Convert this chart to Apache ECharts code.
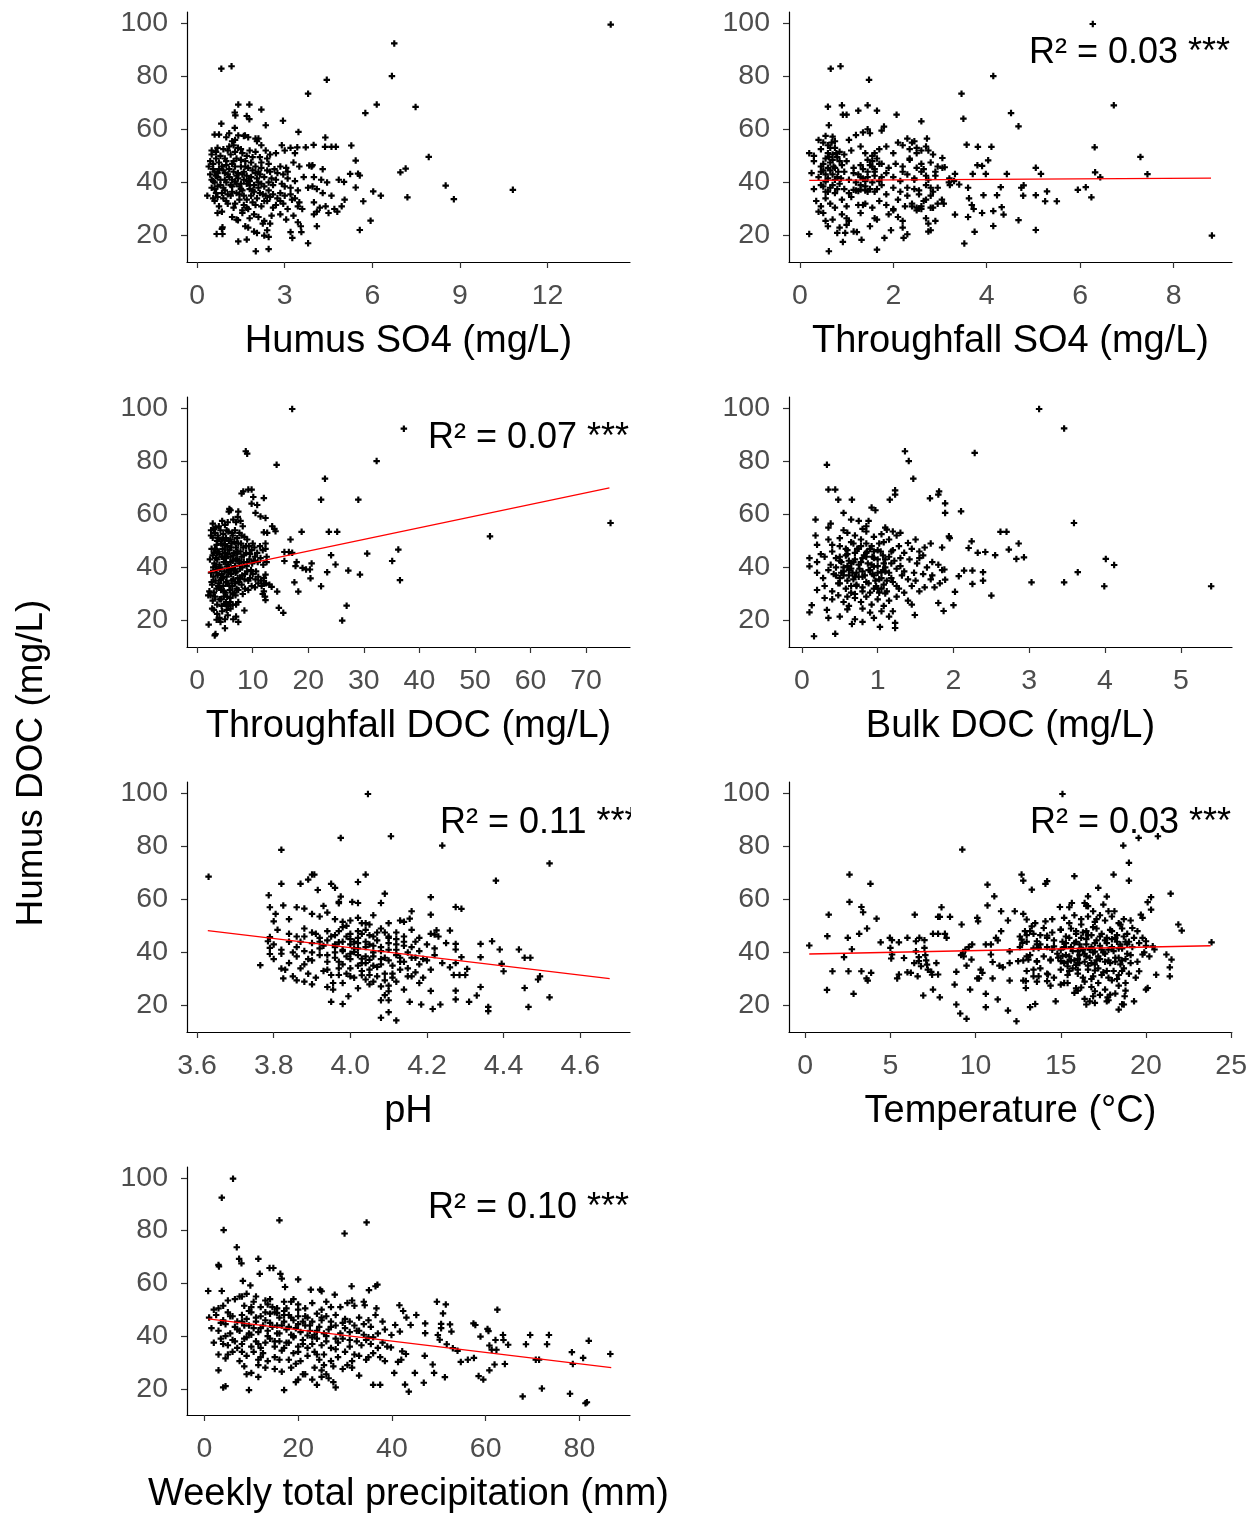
<!DOCTYPE html>
<html><head><meta charset="utf-8">
<script src="https://cdn.jsdelivr.net/npm/echarts@6/dist/echarts.min.js"></script>
<style>html,body{margin:0;padding:0;background:#fff}#c{width:1250px;height:1515px}</style>
</head><body><div id="c"></div>
<script>
// ---------- DATA ----------
const humusSO4 = [
[14.16,99.4],[6.75,92.3],[6.67,80.0],[4.44,78.6],[3.80,73.4],[1.18,83.7],[0.83,82.8],[6.15,69.3],[5.76,66.1],[7.48,68.4],[7.93,49.6],[6.96,43.8],[7.14,45.2],[7.20,34.4],[8.51,38.8],[8.79,33.7],[10.81,37.2],[6.03,36.6],[6.29,35.0],[5.94,25.6],[5.57,22.1],[5.69,32.9],[5.28,53.9],[5.43,48.2],[5.43,38.1],[5.51,43.3],[5.57,42.6],[5.24,43.2],[5.03,40.2],[5.05,33.5],[4.6,53.4],[4.75,53.4],[4.39,56.9],[4.38,53.4],[3.99,54.1],[3.72,53.2],[3.43,53.2],[3.47,59.0],[2.94,63.2],[3.84,46.4],[3.92,46.0],[3.80,17.1],[3.57,21.3],[3.20,21.3],[3.26,19.1],[2.45,14.9],[2.01,14.1],[1.41,17.8],[1.70,18.5],[0.67,20.6],[0.87,20.6],[0.87,23.1],[2.2,67.4],[2.35,61.5],[1.41,69.3],[1.79,69.3],[1.29,66.3],[1.31,65.2],[1.70,65.0],[1.79,63.8],[1.29,60.5],[0.83,62.1],[1.64,57.7],[1.41,57.7],[2.0,56.5],[2.05,55.5],
[0.6,58],[0.75,58],[1.1,58.5],[1.3,56],[1.6,57.5],[1.75,57],[2.1,56.5],[1.0,57],[1.2,55.5],
[0.5,52],[0.7,53],[0.9,52.5],[1.05,52],[1.25,54],[1.4,53],[1.55,51],[1.8,52],[2.0,51.5],[2.2,54],[2.35,52],[2.5,50.5],[2.7,51],[3.0,52],[3.2,53],[3.35,51],[2.9,54],[1.15,50.5],[0.8,50],
[0.45,48],[0.55,47],[0.65,49],[0.85,46],[1.0,48],[1.2,47],[1.35,49],[1.5,46],[1.65,48],[1.85,47.5],[2.0,46],[2.2,45.5],[2.45,47],[2.65,45],[2.85,46],[3.05,45.5],[3.3,47.5],[3.5,46],[3.95,46.5],[4.3,45],[2.4,49],
[0.45,43],[0.6,44],[0.7,42],[0.8,41],[0.95,43.5],[1.1,42],[1.25,44],[1.4,41.5],[1.55,43],[1.7,42.5],[1.9,44.5],[2.05,41.5],[2.15,43],[2.3,42],[2.5,44],[2.7,41],[2.95,43],[3.1,41.5],[3.35,40.5],[3.65,42],[4.0,42],[4.25,41],[4.45,40],[4.85,41],[1.75,40.5],[1.3,40.3],[0.55,40.5],
[0.5,38],[0.65,36],[0.8,39],[0.95,37],[1.05,35.5],[1.2,38.5],[1.35,36],[1.5,37.5],[1.6,35],[1.8,39],[1.95,36.5],[2.1,38],[2.25,35.5],[2.45,37],[2.6,39],[2.85,36],[3.0,38.5],[3.2,35.5],[3.45,37],[3.8,38],[3.95,38.5],[4.1,37.5],[4.3,36],[4.6,35],[0.35,35],
[0.6,33],[0.75,31],[0.9,34],[1.05,32],[1.25,30.5],[1.45,33.5],[1.6,31.5],[1.75,30],[1.9,32.5],[2.05,34],[2.2,31],[2.4,33],[2.6,30.5],[2.75,34],[2.95,32],[3.1,30],[3.25,33.5],[3.45,31],[3.6,30],[4.0,32.5],[4.2,30.5],[4.4,31],[4.7,30],[4.95,31],[4.8,29],
[0.7,28.5],[0.85,29],[1.2,27],[1.35,26],[1.55,28.5],[1.8,26.5],[1.95,28],[2.1,27],[2.3,25.5],[2.55,27.5],[2.85,28],[3.05,26],[3.3,27.5],[3.45,25],[4.0,28],[4.1,29],[4.5,28.5],[1.4,25.8],[2.5,24.5],
[0.85,22.5],[1.65,23.5],[1.75,23],[2.25,24.5],[2.4,22],[2.05,21],[3.55,23.5],[4.1,23.5],[2.3,20],[2.45,19.5],[1.95,21.5],
[0.55,45],[0.65,42.5],[0.75,47.5],[0.9,44.5],[1.0,40],[1.1,45],[1.15,39],[1.3,46],[1.4,43.5],[1.45,38.5],[1.5,48.5],[1.6,44],[1.7,39.5],[1.75,45.5],[1.85,42],[1.9,37],[2.0,43.5],[2.1,40],[2.2,47.5],[2.3,38.5],[2.4,44.5],[2.55,41.5],[2.6,35.5],[2.75,43.5],[2.9,39.5],[3.1,44],[3.2,38],[0.6,37.5],[0.7,34.5],[0.85,36],[1.0,33],[1.15,35],[1.3,32],[1.45,35.5],[1.55,29.5],[1.7,33.5],[1.85,35],[2.0,31.5],[2.15,36],[2.3,33],[2.5,34.5],[2.7,31.5],[2.85,33],[3.0,35],[3.35,34],[3.5,32.5],[0.5,50.5],[0.65,51.5],[0.95,49],[1.1,53.5],[1.3,51.5],[1.5,52.5],[1.7,50],[1.9,49.5],[2.15,49.5],[0.4,46],[0.5,41],[0.7,38.5],[0.95,41],[1.2,41],[1.35,39.5],[1.6,41],[1.8,37.5],[2.2,39.5],[2.45,40],
[0.6,40],[0.75,45],[0.9,38],[1.05,43],[1.2,36.5],[1.35,42.5],[1.5,39.5],[1.65,46],[1.8,40.5],[1.95,39],[2.1,44],[1.0,46.5],[1.25,48],[0.7,43.5],[1.55,37],[1.7,30.5],[2.35,35],[0.55,34]
];
const throughSO4 = [
[6.27,99.6],[0.87,83.7],[0.66,82.8],[1.48,78.6],[4.14,80.0],[3.46,73.4],[6.72,69.0],[4.52,66.1],[3.50,64.0],[4.68,61.1],[7.29,49.6],[7.44,43.1],[6.31,53.2],[6.32,43.8],[6.43,41.9],[5.95,37.2],[6.12,38.2],[6.24,34.4],[5.05,45.5],[5.16,43.2],[5.29,36.6],[5.25,32.9],[5.50,32.9],[5.05,35.2],[5.05,22.1],[4.74,38.0],[4.78,35.0],[4.79,38.9],[4.68,25.8],[4.43,43.2],[4.30,38.2],[4.32,30.7],[4.36,27.9],[4.22,35.2],[4.14,29.2],[4.14,23.6],[4.10,53.4],[4.03,48.3],[3.98,43.2],[3.81,53.4],[3.80,46.5],[3.90,46.2],[3.93,35.2],[3.90,28.5],[3.74,21.4],[3.70,43.2],[3.57,54.2],[3.60,38.0],[3.62,34.0],[3.68,31.5],[3.72,30.0],[3.60,27.0],[3.52,17.0],[3.32,43.2],[3.32,27.9],[3.41,39.2],[3.19,40.0],[3.21,39.0],[3.10,45.7],[3.05,49.2],[3.08,32.0],[3.04,33.5],
[0.2,20.6],[0.62,14.1],[0.92,17.6],[1.32,18.4],[1.65,14.7],[1.81,19.1],[2.22,19.1],[8.82,20.0],[1.22,21.3],[0.97,21.0],
[0.55,57.5],[0.62,61.5],[0.7,57.2],[0.4,56],[0.5,55],[1.2,57.8],[1.35,58.8],[1.45,60],[1.5,58.5],[1.75,59.5],[1.8,61],[1.05,56],[2.1,55],[2.3,56.5],[2.45,55.5],[2.6,63],[2.72,56.5],[0.6,68.5],[0.9,69],[0.92,65.5],[1.0,65.5],[1.25,67],[1.45,69],[1.65,67],[2.07,65.5],
[0.2,51],[0.3,50],[0.45,52.5],[0.6,54],[0.75,53],[0.85,51.5],[0.95,50.5],[1.1,52],[1.3,53.5],[1.4,51],[1.55,50],[1.7,52.5],[1.85,53.5],[2.0,51],[2.2,54],[2.35,52.5],[2.5,53],[2.7,53.5],[2.85,50.5],[2.6,52],[0.7,50.5],[1.6,51],
[0.3,48],[0.45,46],[0.55,49],[0.65,47.5],[0.75,45.5],[0.8,49.5],[0.9,46.5],[1.0,48],[1.15,45.5],[1.3,46.5],[1.45,48.5],[1.55,46],[1.65,49],[1.75,47],[1.9,45.5],[2.05,47],[2.2,46],[2.35,48.5],[2.5,45.5],[2.65,45],[2.8,47.5],[2.95,46],[3.05,45.5],[0.6,45.5],[1.6,45],
[0.25,43.5],[0.4,42],[0.5,44.5],[0.6,41.5],[0.7,43],[0.8,42],[0.95,44],[1.05,41],[1.15,43.5],[1.3,42],[1.45,44],[1.6,42.5],[1.7,40.5],[1.85,43.5],[2.0,42],[2.15,40.5],[2.3,43],[2.45,41.5],[2.6,44],[2.75,41],[2.9,42.5],[3.2,41.5],[3.3,40.5],[1.4,40.5],[0.55,40.3],
[0.3,37.5],[0.45,39],[0.55,36.5],[0.65,38],[0.75,36],[0.85,39.5],[0.95,37.5],[1.05,36],[1.2,37],[1.3,37.3],[1.4,37],[1.5,37.5],[1.6,36.5],[1.75,39],[1.85,35.5],[2.0,38],[2.15,36.5],[2.3,38],[2.45,37.5],[2.55,35.5],[2.7,39],[2.85,36.5],[2.95,38],[2.8,35],[1.15,37.2],[1.25,36.8],
[0.35,33],[0.45,31],[0.55,34],[0.65,32],[0.75,30.5],[0.9,33.5],[1.0,31],[1.1,34.5],[1.25,31.5],[1.4,32],[1.55,30.5],[1.7,33],[1.85,31.5],[2.0,30],[2.1,33.5],[2.25,31],[2.4,32],[2.5,30.5],[2.6,31],[2.7,33.5],[2.8,30.5],[2.95,32],[1.35,31.5],[2.55,30.2],
[0.4,29],[0.5,28.5],[0.7,26],[0.9,28],[1.0,26.5],[1.05,25.5],[1.3,28.5],[1.6,26.5],[1.65,26],[1.9,28],[2.0,29.5],[2.1,27],[2.2,25.5],[2.7,26.5],[2.75,24.5],[2.9,25.5],[0.55,25.5],
[0.6,23.5],[0.8,21],[0.85,23],[1.0,24],[1.15,21.5],[1.5,23.5],[1.95,22],[2.2,23],[2.75,21.5],[2.8,22],[2.3,20.5],
[0.5,47],[0.55,43],[0.6,51],[0.65,44.5],[0.65,53],[0.7,48.5],[0.7,39],[0.72,46],[0.75,41],[0.78,51],[0.8,37.5],[0.82,44],[0.85,48],[0.88,41.5],[0.6,36.5],[0.5,38.5],[0.45,44],[0.68,55],[0.75,55.5],[0.62,49.5],
[1.2,40],[1.25,43],[1.3,39],[1.35,45],[1.4,38.5],[1.45,42],[1.5,46.5],[1.55,40],[1.6,44],[1.65,37.5],[1.7,47],[1.75,42],[1.55,48],[1.45,36.5],[1.35,41.5],
[2.2,44],[2.3,35],[2.35,49],[2.4,31],[2.45,41],[2.5,51],[2.55,37],[2.6,47],[2.65,33],[2.7,42.5],[2.75,52],[2.8,38],[2.85,30.5],[2.9,44],[2.4,55],[2.5,29.5],[2.6,30]
];
const throughDOC = [
[17.1,99.6],[37.2,92.2],[8.75,83.7],[9.0,82.8],[14.3,78.6],[32.3,80.0],[23.0,73.4],[22.3,65.5],[29.0,65.5],[74.4,56.7],[52.7,51.7],[18.8,53.4],[23.7,53.4],[25.2,53.4],[16.8,50.5],[24.1,44.6],[30.6,45.2],[36.2,46.7],[35.1,42.4],[24.9,41.1],[20.6,41.5],[20.3,39.2],[19.6,39.2],[18.96,39.8],[17.9,42.0],[17.7,40.5],[15.7,45.8],[16.5,45.8],[17.1,45.5],[15.7,42.4],[23.4,38.2],[27.2,38.8],[29.3,37.3],[20.4,35.9],[17.5,34.4],[36.5,35.2],[22.3,32.9],[18.2,30.9],[14.4,30.9],[26.9,25.6],[26.1,20.0],[14.7,24.8],[15.5,22.9],[8.5,23.8],[7.4,19.5],[2.07,18.5],[3.16,14.4],[3.3,14.9],[5.0,17.1],[2.7,24.5],[12.0,66.1],[9.8,64.0],[10.8,63.5],[9.2,69.3],[9.8,69.3],[8.0,67.8],[8.3,68.6],[10.1,66.5],[10.5,60.5],[11.4,59.2],[12.3,58.6],[5.8,62.0],[7.4,61.0],[12.0,53.2],[12.6,53.0],[13.5,55.5],[13.9,54.5],[14.1,53.6],[12.3,49.0],[12.3,47.0],[12.5,44.0],[12.3,37.3],[12.0,33.9],[12.0,31.0],[12.3,27.7],[13.4,32.7],
[2.8,56.5],[3.3,55],[4.5,57.5],[5.0,56],[5.7,61],[6.0,61.5],[6.5,58],[7.0,57],[7.3,59],[7.8,57.5],[8.2,55.5],[5.5,57],[3.0,54.5],[2.5,54],
[2.5,52],[3.2,53],[3.8,51],[4.2,54],[4.7,52.5],[5.2,51],[5.6,53.5],[6.0,50.5],[6.4,52],[6.8,54],[7.2,51],[7.6,53],[8.0,52],[8.5,51.5],[9.0,50.5],[3.6,50],[4.9,50.2],[2.8,51.2],
[2.6,47],[3.0,45.5],[3.5,48.5],[3.9,46],[4.3,49],[4.6,47],[5.0,45.5],[5.4,48],[5.8,46.5],[6.2,49],[6.6,45.5],[7.0,47.5],[7.4,49],[7.8,46],[8.3,47.5],[8.8,45.5],[9.3,48],[9.8,46.5],[10.3,47.5],[10.8,45.5],[11.3,48],[11.8,46.5],[10.0,49],[7.2,45.2],
[2.3,43],[2.8,44.5],[3.1,41.5],[3.6,43],[4.0,41],[4.4,44],[4.8,42],[5.2,43.5],[5.6,41],[6.0,44],[6.4,42.5],[6.8,40.5],[7.2,43],[7.6,41.5],[8.0,44],[8.4,42],[8.9,40.5],[9.4,43],[9.9,41.5],[10.4,44],[10.9,42],[11.4,43.5],[11.9,41],[12.5,42],[5.4,40.3],[3.4,40.3],
[2.5,38],[2.9,36.5],[3.3,39],[3.7,37],[4.1,39.5],[4.5,36],[4.9,38.5],[5.3,36.5],[5.7,39],[6.1,37.5],[6.5,35.5],[6.9,38],[7.3,36],[7.7,39.5],[8.1,37],[8.5,35.5],[9.0,38.5],[9.5,36],[10.0,37.5],[10.5,35.5],[11.0,36.5],[11.5,35],[12.0,36],[6.3,39.6],[4.3,35.3],
[2.2,31],[2.7,33.5],[3.0,30.5],[3.5,32],[3.9,34],[4.3,31.5],[4.7,33],[5.1,30.5],[5.5,34],[5.9,31.5],[6.3,33],[6.7,30.5],[7.1,32],[7.5,34.5],[8.0,33.5],[8.6,32],[9.2,31.5],[9.8,33],[10.4,32.5],[11.0,34],[11.6,33],[12.4,34],[13.0,33.5],[2.0,29.5],
[2.8,27.5],[3.2,29],[3.6,26],[4.0,28],[4.4,25.5],[4.8,29],[5.2,27],[5.6,25.5],[6.0,28.5],[6.4,26],[6.9,29.5],[7.4,27],[2.4,29.5],[5.0,26.2],[12.2,29],[11.8,30],
[3.0,24],[3.6,22.5],[4.0,21],[4.5,23.5],[5.0,20.5],[5.5,22],[6.0,24.5],[6.5,20.5],[4.2,19.5],[3.5,20.3],[7.0,21.5],
[3.2,47],[3.4,43.5],[3.5,38],[3.7,52],[3.8,33],[4.0,45],[4.2,40],[4.3,28],[4.5,50.5],[4.6,44],[4.7,36.5],[4.8,31],[5.0,48.5],[5.1,42],[5.2,34.5],[5.3,54],[5.4,29],[5.5,45],[5.6,38],[5.7,50],[5.8,33],[5.9,27],[6.0,42],[6.1,47.5],[6.2,35],[6.3,53],[6.4,30],[6.5,44.5],[6.6,39],[6.7,49.5],[6.8,34],[6.9,43],[7.0,26],[7.1,38.5],[7.3,46],[7.4,31.5],[7.6,42.5],[7.7,36],[7.9,49],[8.1,40],[8.2,30],[8.4,44.5],[8.6,37.5],[8.8,48],[9.0,42],[9.2,35],[9.5,45],[9.7,39],[10.2,42.5],[10.6,38.5],[3.9,55.5],[4.4,37.5],[5.3,24],[4.0,32.5],[3.3,35],[2.9,40],[3.6,45.5],[2.6,34.5]
];
const bulkDOC = [
[3.13,99.6],[3.46,92.3],[2.28,83.1],[1.36,83.7],[1.41,80.0],[1.47,73.4],[0.33,78.6],[0.35,69.3],[0.44,69.3],[1.23,69.0],[1.23,67.4],[1.16,65.5],[0.48,65.5],[0.66,65.5],[1.69,66.0],[1.80,67.4],[1.81,68.6],[1.89,64.1],[1.89,60.5],[2.10,61.1],[1.94,51.7],[2.24,49.8],[2.20,47.3],[2.32,45.5],[2.42,45.8],[2.55,44.6],[2.62,53.4],[2.70,53.4],[2.86,49.0],[2.73,46.7],[2.83,43.2],[2.93,43.8],[3.59,56.7],[3.03,34.4],[3.46,34.4],[3.64,38.2],[4.01,43.2],[4.12,40.9],[3.99,32.9],[5.40,32.9],[2.50,29.4],[2.25,38.8],[2.25,33.8],[2.39,38.2],[2.39,35.0],[2.14,38.8],[2.07,36.7],[2.02,30.8],[2.00,25.8],[1.87,23.6],[1.80,26.6],[1.89,35.4],[1.88,39.2],[0.16,14.1],[0.44,15.0],[0.10,23.1],[0.13,25.8],[0.10,40.4],[0.18,58.0],[1.49,22.1],[1.23,19.1],[1.23,17.2],[1.03,17.6],[0.80,19.5],[0.66,18.7],
[0.55,60.5],[0.65,58],[0.75,57.5],[0.85,55.5],[0.88,57.5],[0.92,62.5],[0.97,61.5],[0.38,56.5],[0.35,55],[1.1,55],[0.8,54.5],[1.2,53.5],
[0.18,52],[0.35,50.5],[0.5,51],[0.6,53],[0.7,52],[0.78,50.5],[0.85,53.5],[0.95,51.5],[1.05,52.5],[1.15,50.5],[1.25,52],[1.3,53],[1.5,50.5],[1.95,51],[0.55,54],[1.12,54.2],
[0.2,48.5],[0.25,45],[0.4,46],[0.5,48],[0.6,46.5],[0.68,49],[0.75,47],[0.85,45.5],[0.92,48],[1.0,46.5],[1.08,49.5],[1.18,46],[1.28,48],[1.35,45.5],[1.45,47],[1.55,46],[1.62,47.5],[1.7,49],[1.85,47.5],[1.4,49.2],
[0.1,43.5],[0.2,42],[0.3,44],[0.38,41],[0.45,43.5],[0.52,42],[0.58,44.5],[0.65,41.5],[0.7,43],[0.78,42],[0.85,44],[0.92,41],[1.0,43],[1.08,41.5],[1.15,44],[1.22,42.5],[1.3,40.5],[1.42,43],[1.52,41.5],[1.6,44.5],[1.72,42],[1.8,41],[0.6,40.5],[0.95,40.3],
[0.2,38],[0.28,36],[0.35,39],[0.42,37.5],[0.5,36],[0.55,38.5],[0.62,37],[0.68,35.5],[0.72,38],[0.8,36.5],[0.88,39],[0.95,37],[1.02,35.5],[1.1,38.5],[1.18,36],[1.25,39.5],[1.32,37],[1.4,35.5],[1.48,38],[1.6,37.5],[1.72,37],[1.85,39],[0.65,39.6],[1.05,38.2],
[0.3,33],[0.4,31],[0.5,34],[0.58,32],[0.65,30.5],[0.72,33.5],[0.8,31],[0.88,34],[0.95,32],[1.02,30.5],[1.08,33.5],[1.05,32],[1.12,31],[1.2,34.5],[1.28,32],[1.35,30.5],[1.45,33],[1.55,31],[1.62,32.5],[1.75,32.5],[1.82,34],[0.2,31.5],[1.1,30.2],
[0.4,28],[0.48,29.5],[0.55,27],[0.62,25.5],[0.7,28.5],[0.78,27],[0.85,29],[0.92,26],[1.0,28],[1.08,25.5],[1.15,27.5],[1.25,29],[1.4,27.5],[1.45,26],[0.3,28.5],
[0.33,24],[0.35,21],[0.5,21.5],[0.7,20.5],[0.8,24.5],[0.9,23],[0.95,21],[1.05,23.5],[1.15,21.5],[1.2,23.5],[0.6,24.2],
[0.5,44],[0.55,40],[0.58,47],[0.6,35],[0.62,42.5],[0.65,49.5],[0.67,38],[0.7,45.5],[0.72,33],[0.75,41],[0.78,48],[0.8,38.5],[0.82,44.5],[0.85,34.5],[0.87,41.5],[0.9,47],[0.93,37.5],[0.95,43.5],[0.98,33],[1.0,40.5],[1.02,49],[1.05,36],[1.07,44.5],[1.1,40],[0.75,36.5],[0.85,49],[0.95,46],[1.12,35],[0.45,40],[0.48,34],[0.52,38],[1.2,46.5],[1.25,33],[1.3,43.5],[1.35,38.5],[0.4,48.5],[1.5,35],[1.55,43.5],[1.65,40],[1.7,35.5],
[0.5,42.5],[0.55,37],[0.6,45],[0.62,39],[0.68,42],[0.7,36.5],[0.73,47],[0.76,39.5],[0.8,43.5],[0.83,37],[0.86,46],[0.9,39],[0.93,44],[0.97,35],[1.0,38],[1.04,46],[1.07,39],[1.1,43],[1.15,38],[1.18,41.5],[0.65,33],[0.8,32.5],[0.9,30.5],[1.0,32],[0.7,30],[0.6,29],[0.45,37]
];
const pH = [
[3.63,68.5],[3.765,35.2],[4.046,99.6],[3.975,83.1],[4.106,83.7],[3.82,78.6],[4.24,80.2],[4.52,73.5],[4.38,67.0],[4.04,69.3],[4.02,66.5],[3.90,69.3],[3.906,69.3],[3.89,67.4],[3.87,65.8],[3.82,65.8],[3.95,65.8],[3.96,64.3],[3.915,63.5],[3.975,61.0],[3.97,59.0],[4.09,62.1],[4.005,59.0],[4.02,58.6],[4.08,58.6],[4.21,60.8],[4.21,54.2],[4.16,55.5],[4.155,52.7],[4.13,52.0],[4.275,57.1],[4.29,56.4],[4.225,48.3],[4.22,46.7],[4.26,48.2],[4.275,43.2],[4.275,41.1],[4.29,38.2],[4.26,34.4],[4.275,36.0],[4.27,31.5],[4.285,31.5],[4.30,31.5],[4.305,33.8],[4.275,25.6],[4.275,22.3],[4.31,21.4],[4.33,23.8],[4.34,27.0],[4.34,43.2],[4.34,38.2],[4.37,44.2],[4.39,41.1],[4.395,35.7],[4.40,32.9],[4.36,19.5],[4.36,17.9],[4.44,41.1],[4.455,38.0],[4.47,38.0],[4.455,26.6],[4.465,19.5],[4.49,29.8],[4.495,31.0],[4.52,23.1],[4.235,20.4],[4.215,18.7],[4.185,20.4],[4.155,21.4],[4.08,15.4],[4.10,17.5],[4.12,14.4],[4.08,22.0],[4.09,23.9],[4.10,22.0],[4.10,25.4],[3.95,21.4],[3.98,20.6],[3.995,23.5],[3.955,28.5],[3.955,26.0],[3.825,30.2],[3.82,33.9],[3.79,39.4],[3.79,41.7],[3.785,44.2],[3.79,45.8],[3.79,57.0],[3.787,61.5],[3.80,51.7],[3.805,54.5],[3.825,57.7],
[3.86,57],[3.88,56.5],[3.9,54.5],[3.92,53.5],[3.94,55],[3.96,52.5],[3.98,51.5],[4.0,52],[4.02,53],[4.04,51],[4.06,54],[4.1,51],[4.14,51.5],[3.84,52.5],[3.93,57.5],[3.97,58.5],[4.05,50.5],
[3.81,48.5],[3.84,47],[3.86,46],[3.88,49],[3.9,47.5],[3.92,45.5],[3.94,48],[3.96,46.5],[3.98,49.5],[4.0,47],[4.02,45.5],[4.04,48.5],[4.06,46],[4.08,49],[4.1,45.5],[4.12,47.5],[4.14,46],[4.16,48.5],[4.18,45.5],[4.21,47],[4.23,46],[3.99,50],
[3.8,43],[3.82,41],[3.84,44],[3.86,42],[3.88,40.5],[3.9,43.5],[3.92,41.5],[3.94,44.5],[3.96,42],[3.98,40.5],[4.0,43],[4.02,41.5],[4.04,44],[4.06,42.5],[4.08,40.5],[4.1,43.5],[4.12,41],[4.14,44],[4.16,42],[4.18,40.5],[4.2,43],[4.22,41.5],[4.25,43.5],[4.01,40.2],[3.97,43.8],
[3.8,37.5],[3.82,39.5],[3.84,36],[3.86,38.5],[3.88,35.5],[3.9,37],[3.92,39],[3.94,36.5],[3.96,38],[3.98,35.5],[4.0,37.5],[4.02,39],[4.04,36],[4.06,38.5],[4.08,35.5],[4.1,37],[4.12,39],[4.14,36.5],[4.16,38],[4.18,35.5],[4.2,37],[4.22,39],[4.24,36],[4.05,37.2],[4.03,37.6],
[3.83,33.5],[3.85,31],[3.87,34],[3.89,32],[3.91,30.5],[3.93,33],[3.95,31.5],[3.97,34],[3.99,32],[4.01,30.5],[4.03,33],[4.05,31.5],[4.07,34.5],[4.09,32],[4.11,30.5],[4.13,33.5],[4.15,31],[4.17,32.5],[4.19,30.5],[4.21,33.5],[3.88,29],[4.03,31.4],
[3.86,29.5],[3.9,28],[3.94,27],[3.98,28.5],[4.02,26.5],[4.06,29],[4.1,27.5],[4.14,26],[4.18,28.5],[4.21,25.5],[4.04,29.8],[4.08,27.2],
[3.95,46],[3.96,40],[3.97,36.5],[3.98,44],[3.99,38.5],[4.0,45],[4.0,34],[4.01,41.5],[4.02,48],[4.03,36],[4.04,42],[4.05,46.5],[4.05,33.5],[4.06,40],[4.07,44.5],[4.08,37.5],[4.09,47.5],[4.1,41],[4.11,35],[4.12,45],[4.13,38],[4.14,42.5],[4.03,51],[3.93,42.5],[3.91,47],[3.89,37.5],[3.94,33.5],[4.07,31],[4.15,40],[4.17,44],[4.19,37.5],[4.12,29],[3.87,44],[3.85,40],
[3.96,43],[3.97,48],[3.98,41],[3.99,46],[4.0,39.5],[4.01,44],[4.02,35],[4.03,47],[4.04,38.5],[4.05,43],[4.06,35],[4.07,47.5],[4.08,42],[4.09,38],[4.1,46],[4.11,32],[4.12,43],[4.13,36.5],[3.94,39],[3.92,44],[3.9,40],[3.88,46],[4.0,31],[4.05,28],[4.15,34],[4.17,38],[4.16,31],[3.97,31.5],[4.09,29.5],[4.02,43.5]
];
const temperature = [
[0.24,42.6],[1.3,46.1],[1.38,54.2],[1.28,25.9],[1.6,32.9],[2.28,38.2],[2.5,45.5],[2.54,32.9],[2.6,69.3],[2.6,59.0],[2.74,41.2],[2.84,24.4],[3.17,47.0],[3.3,57.1],[3.4,55.1],[3.3,32.9],[3.6,30.2],[3.67,29.4],[3.63,49.0],[3.83,65.8],[3.87,32.3],[4.19,52.7],[4.43,43.8],[4.97,45.5],[5.09,44.6],[5.0,41.7],[5.1,39.2],[5.05,37.7],[5.4,30.2],[5.5,31.7],[5.8,37.9],[6.0,32.5],[6.2,32.3],[5.5,43.8],[6.0,45.5],[6.43,54.2],[6.4,36.0],[6.5,40.4],[6.5,44.2],[6.7,45.5],[6.6,31.0],[6.67,38.2],[6.67,36.7],[6.93,23.8],[7.0,44.6],[7.0,41.7],[7.05,39.0],[7.1,37.0],[7.15,35.4],[6.8,34.8],[7.2,33.5],[7.5,47.0],[7.8,47.0],[7.4,32.7],[7.45,31.6],[7.5,26.0],[7.7,36.0],[7.8,31.7],[7.8,53.4],[7.9,53.4],[8.0,57.0],[8.2,47.0],[8.3,45.5],[7.9,23.1],[8.5,53.4],[8.87,32.7],[8.77,27.9],[8.87,20.4],[9.1,17.0],[9.47,15.0],[9.18,50.5],[9.22,78.7],[9.15,39.0],[9.3,38.5],[9.25,39.5],[9.4,41.0],[9.6,42.0],[9.8,43.0],[9.47,35.0],[9.68,26.0],[9.76,37.3],[10.1,30.2],[10.2,30.2],[10.1,53.0],[10.15,51.7],[10.3,33.5],[10.4,32.3],[10.6,19.4],[10.6,24.4],[10.7,65.5],[10.7,57.7],[10.6,43.0],[10.9,43.0],[10.9,39.2],[11.0,36.4],[11.0,30.2],[11.1,61.1],[11.2,45.5],[11.3,44.5],[11.5,48.0],[11.3,22.3],[11.4,35.0],[11.6,34.4],[11.5,55.5],[11.9,52.0],[12.0,40.4],[12.0,36.0],[11.9,18.1],[12.0,29.4],[12.3,55.5],[12.4,14.1],[12.5,36.7],[12.7,44.8],[12.75,43.6],[12.7,69.3],[12.8,67.0],[12.8,29.4],[12.8,54.5],[13.0,52.4],[12.9,48.0],[13.0,46.5],[13.0,38.5],[13.1,37.3],[12.95,29.2],[12.95,26.6],[13.2,19.4],[13.3,63.6],[13.3,49.8],[13.4,47.0],[13.4,33.5],[13.5,20.6],[13.6,44.2],[13.7,41.7],[13.6,36.7],[13.7,31.0],[14.1,65.8],[14.2,66.8],[14.1,51.7],[14.2,46.3],[14.25,31.7],[14.2,29.2],[14.4,37.3],[14.6,42.3],[14.7,21.6],[14.85,38.0],[15.0,36.7],[14.95,57.1],[15.0,48.6],[15.0,27.9],[15.1,99.6],[15.1,38.6],[15.4,28.5],[15.4,34.8],[15.65,58.6],[15.8,68.7],[15.8,24.8],[16.0,25.6],[16.4,58.6],[16.6,57.4],[16.6,61.1],[16.5,20.4],[16.7,21.6],[16.9,23.5],[17.0,25.4],[17.2,64.3],[17.7,61.0],[17.8,55.5],[18.1,69.3],[18.15,55.5],[17.7,21.6],[17.75,23.1],[17.9,24.1],[18.4,18.5],[18.67,80.2],[19.0,73.7],[19.0,67.0],[18.7,20.4],[18.75,23.5],[18.8,25.6],[19.2,49.2],[19.3,21.6],[19.6,32.9],[19.7,54.2],[19.8,53.0],[19.57,83.1],[19.8,45.5],[20.0,44.2],[19.8,39.2],[20.0,26.0],[20.1,26.6],[20.1,58.9],[20.3,60.8],[20.3,56.1],[20.4,42.3],[20.5,41.1],[20.6,31.6],[20.7,83.7],[21.2,39.2],[21.4,34.4],[21.4,31.0],[21.45,62.1],[21.5,37.3],[21.9,50.5],[22.1,48.2],[23.85,43.8],
[13.5,51],[14.5,52.5],[15.2,53],[15.5,51],[15.8,54],[16.2,52.5],[16.6,53.5],[17.0,51.5],[17.3,54],[17.6,52],[18.0,53.5],[18.4,51],[18.7,52.5],[16.5,57.5],[17.5,58],[15.5,57],[16.9,55.5],[18.5,50.5],[19.1,52],
[13.2,48],[13.8,46.5],[14.5,47.5],[15.0,48.5],[15.3,46],[15.6,49],[15.9,47],[16.2,45.5],[16.5,48],[16.8,46.5],[17.1,49],[17.4,47],[17.7,45.5],[18.0,48],[18.3,46.5],[18.6,49],[18.9,47],[19.3,45.5],[12.6,46],[14.0,49.2],
[12.6,42],[13.0,44],[13.4,41.5],[13.8,43],[14.2,42],[14.6,44.5],[15.0,41],[15.3,43.5],[15.6,42],[15.9,44],[16.2,41.5],[16.5,43],[16.8,42],[17.1,44.5],[17.4,41],[17.7,43.5],[18.0,42],[18.3,44],[18.6,41.5],[18.9,43],[19.2,42],[19.6,43.5],[20.0,42.5],[16.0,40.5],[17.0,40.3],
[12.8,37],[13.2,39],[13.6,36.5],[14.0,38.5],[14.4,37],[14.8,39.5],[15.2,36],[15.5,38.5],[15.8,37],[16.1,39],[16.4,36.5],[16.7,38],[17.0,35.5],[17.3,37.5],[17.6,39.5],[17.9,36],[18.2,38],[18.5,35.5],[18.8,37.5],[19.1,39],[19.5,36.5],[20.2,38.5],[15.9,35.3],
[13.0,33],[13.4,31],[13.8,34],[14.2,32],[14.6,30.5],[15.0,33.5],[15.4,31.5],[15.7,34],[16.0,32],[16.3,30.5],[16.6,33.5],[16.9,31],[17.2,34],[17.5,32.5],[17.8,30.5],[18.1,33],[18.4,31.5],[18.7,34],[19.0,32],[19.4,30.5],[17.0,33.2],
[13.6,29],[14.4,27.5],[15.2,28.5],[15.9,26.5],[16.4,29],[16.8,27],[17.2,28.5],[17.6,26],[18.0,29.5],[18.4,27.5],[18.8,28.5],[16.2,26.8],
[16.4,22.5],[17.0,21],[17.3,24],[17.8,22],[18.2,24.5],[18.6,20.5],
[15.1,44],[15.3,39],[15.5,45.5],[15.7,40.5],[15.9,48],[16.0,37.5],[16.1,43],[16.3,47.5],[16.4,39.5],[16.5,45],[16.7,41],[16.8,36],[16.9,49.5],[17.0,43.5],[17.2,38.5],[17.3,46],[17.5,40],[17.6,44.5],[17.8,37],[17.9,48.5],[18.1,40.5],[18.2,45.5],[18.4,38],[18.5,43],[18.7,46],[18.9,39.5],[19.0,44],[16.0,33.5],[17.4,31.5],[18.3,30],[18.6,33],[15.5,33],[16.8,30],[14.5,41],[14.2,45.5],[13.6,43],[19.5,48],[19.9,40],[17.1,52.5],[16.2,50.5],
[15.2,42],[15.6,37],[15.8,43.5],[16.1,36],[16.3,41],[16.5,38.5],[16.6,46.5],[16.9,40],[17.1,37],[17.3,42.5],[17.6,36.5],[17.8,41],[18.0,45],[18.2,36.5],[18.4,41.5],[18.6,37],[18.8,44],[19.1,36],[16.6,35],[17.7,33],[15.4,36.5]
];
const precipitation = [
[6.1,99.7],[3.7,92.5],[4.1,80.2],[6.9,73.7],[7.4,69.3],[7.9,67.6],[3.0,67.0],[3.1,66.4],[11.5,69.3],[11.8,63.6],[13.9,65.8],[14.7,65.8],[16.2,63.6],[16.5,61.8],[16.0,83.9],[29.9,78.9],[34.6,83.1],[0.8,57.1],[3.7,57.1],[8.2,60.9],[9.8,59.2],[17.2,58.6],[20.0,61.5],[22.7,57.6],[24.7,57.6],[25.0,57.0],[27.8,55.7],[31.4,58.9],[35.1,57.4],[36.5,58.9],[36.9,59.5],[34.2,51.7],[36.7,50.5],[41.6,51.7],[42.4,49.5],[43.1,47.0],[45.2,48.0],[44.0,44.2],[47.1,44.8],[47.1,41.1],[40.7,44.2],[41.7,41.7],[39.9,40.4],[49.6,53.0],[51.5,52.0],[50.9,48.6],[50.5,44.6],[50.5,43.0],[49.8,40.4],[50.2,38.6],[52.4,44.4],[52.7,41.7],[51.7,36.9],[51.3,24.4],[49.0,26.0],[48.7,29.2],[47.0,32.5],[44.9,26.0],[46.8,22.3],[43.6,18.9],[42.8,21.6],[41.3,30.2],[42.0,31.0],[40.5,26.0],[39.8,35.7],[42.2,34.2],[43.0,33.2],[53.0,35.4],[54.0,34.4],[54.7,30.2],[56.2,31.0],[57.5,31.7],[57.4,44.8],[57.8,44.2],[58.5,24.8],[59.5,23.5],[58.9,39.8],[60.4,42.7],[60.6,41.9],[60.8,36.4],[61.3,34.8],[60.8,27.0],[61.9,29.2],[62.1,38.5],[62.3,34.8],[62.5,50.0],[63.7,40.4],[63.8,38.5],[64.8,36.7],[64.1,29.4],[68.6,36.9],[69.5,40.4],[67.9,17.1],[70.7,31.0],[71.4,31.0],[72.0,20.1],[73.1,36.9],[73.5,40.4],[78.4,33.9],[78.6,29.4],[78.0,18.1],[80.8,31.7],[81.3,14.5],[81.6,14.9],[82.0,38.2],[86.6,33.2],
[2,50],[3,50.5],[4,51.5],[5,53.5],[6.5,54],[7.5,55],[8.5,51.5],[9.5,49.5],[10.5,53],[11,55],[12,51],[13,53.5],[13.5,52],[14.5,51],[15.5,50.5],[17,53],[17.5,50.5],[19,54],[18.5,53],[20,52],[21.5,50.5],[23,52.5],[25,50],[26,53],[27,51],[29,51],[30.5,52.5],[31.5,53.5],[32,51.5],[34,53],[9,56],[8,55],
[1,47],[2.5,48],[4,46],[5,49],[6,47.5],[7,45.5],[8,48],[9,46.5],[10,49],[11,45.5],[12,47.5],[13,46],[14,48.5],[15,49],[16,47],[17,45.5],[18,48],[19,46],[20,47.5],[21,45.5],[22,47],[23,45.5],[24,48.5],[25,46],[26,47.5],[27,45.5],[28,48],[30,46.5],[31,45.5],[33,47],[35,46],[36.5,48],[38,45.5],[15.5,48.8],[17,49.5],
[1.5,43],[3,42],[4.5,44.5],[5.5,41],[6.5,43.5],[7.5,42],[8.5,44],[9.5,41],[10.5,43],[11.5,41.5],[12.5,44],[13.5,42],[14.5,43.5],[15.5,41],[16.5,44],[17.5,42.5],[18.5,40.5],[19.5,43],[20.5,41.5],[21.5,44],[22.5,42],[23.5,40.5],[24.5,43.5],[25.5,41],[26.5,42.5],[28,44],[29,41],[30,43],[31,41.5],[32,44],[33,42],[34,40.5],[35.5,43.5],[37,41],[38.5,42.5],[22,40.2],
[2,37.5],[3.5,39],[5,36.5],[6,38.5],[7,35.5],[8,37],[9,39.5],[10,36],[11,38],[12,35.5],[13,37.5],[14,39],[15,36],[16,38],[17,35.5],[18,37.5],[19,39.5],[20,36],[21,38.5],[22,35.5],[23,37],[24,39],[25,36.5],[26,38],[27,35.5],[28.5,37.5],[29.5,39],[31,36],[32.5,38],[33.5,36.5],[34.5,38.5],[35.5,37],[37,35.5],[38,37.5],[39,36],[36,39.5],
[3,33],[4.5,31.5],[6,34],[7.5,30.5],[9,32.5],[10.5,34],[11.5,31],[12.5,33.5],[13.5,30.5],[15,32],[16.5,34.5],[18,31],[19,33.5],[20.5,30.5],[22,32.5],[23.5,34],[24.5,31],[25.5,33],[27,30.5],[28.5,32],[30,34],[31.5,30.5],[33,32.5],[34.5,31],[36,33.5],[37.5,32],[38.5,30.5],[35,32],
[3,27],[8.5,28.5],[10,26],[11.5,29],[13,28],[15,27.5],[16.5,26.5],[18.5,28],[19.5,29.5],[21,25.5],[23.5,28],[25,27],[26,25.5],[27.5,28.5],[29.5,27.5],[30.5,29],[31.5,28],[25.5,29],
[4,20.5],[4.5,21],[9,25.5],[9.5,19.5],[11.5,24.5],[17,19.5],[19.5,22.5],[20,23.5],[21.5,25.5],[23,23.5],[24,21.5],[25,24.5],[27.5,22.5],[28,20.5],[36,21.5],[37.5,21.5],[26.5,24],[33,25],
[3.5,45],[4.5,40],[5.5,47.5],[6.5,38],[7,42.5],[8,45.5],[8.5,39],[9.5,44],[10,40.5],[11,47],[11.5,37],[12,43],[13,49],[13.5,40],[14,45],[15,38],[15.5,44],[16,41],[17,48],[17.5,37.5],[18,43.5],[18.5,47],[19,40],[20,44.5],[21,37],[21.5,47.5],[22.5,44],[23,39.5],[24,42],[25,47],[26,40],[27,43.5],[28,39],[29.5,45],[31,38.5],[32.5,42],[34,44.5],[35,39.5],[5,33],[8,34],[12,32],[16,31],[20,34],[24,33],[28,35],[32,33],[4,37],[10,51],[14,54],[20,50]
];
// fitted regression lines (end points)
const fitThroughSO4 = [[0.2,40.8],[8.8,41.6]];
const fitThroughDOC = [[1.95,38.2],[74.2,69.9]];
const fitPH = [[3.628,48.2],[4.677,30.1]];
const fitTemperature = [[0.24,39.4],[23.8,42.5]];
const fitPrecipitation = [[0.8,46.5],[86.8,28.0]];
// tick labels
const yTicks = [20,40,60,80,100];
const ticksHumusSO4 = [0,3,6,9,12];
const ticksThroughSO4 = [0,2,4,6,8];
const ticksThroughDOC = [0,10,20,30,40,50,60,70];
const ticksBulkDOC = [0,1,2,3,4,5];
const ticksPH = [3.6,3.8,4.0,4.2,4.4,4.6];
const ticksTemperature = [0,5,10,15,20,25];
const ticksPrecipitation = [0,20,40,60,80];
// annotation texts
const r2Labels = ['R² = 0.03 ***','R² = 0.07 ***','R² = 0.11 ***','R² = 0.03 ***','R² = 0.10 ***'];

// ---------- CHART ----------
const FONT = '"Liberation Sans", Arial, sans-serif';
const panels = [
  {title:'Humus SO4 (mg/L)', data:humusSO4, ticks:ticksHumusSO4, min:-0.345, max:14.82, col:0, row:0},
  {title:'Throughfall SO4 (mg/L)', data:throughSO4, ticks:ticksThroughSO4, min:-0.233, max:9.25, col:1, row:0, fit:fitThroughSO4, r2:r2Labels[0], r2x:1029},
  {title:'Throughfall DOC (mg/L)', data:throughDOC, ticks:ticksThroughDOC, min:-1.83, max:77.9, col:0, row:1, fit:fitThroughDOC, r2:r2Labels[1], r2x:428},
  {title:'Bulk DOC (mg/L)', data:bulkDOC, ticks:ticksBulkDOC, min:-0.17, max:5.675, col:1, row:1},
  {title:'pH', data:pH, ticks:ticksPH, min:3.5737, max:4.730, col:0, row:2, fit:fitPH, r2:r2Labels[2], r2x:440, dec:1},
  {title:'Temperature (°C)', data:temperature, ticks:ticksTemperature, min:-0.95, max:25.04, col:1, row:2, fit:fitTemperature, r2:r2Labels[3], r2x:1030},
  {title:'Weekly total precipitation (mm)', data:precipitation, ticks:ticksPrecipitation, min:-3.72, max:90.8, col:0, row:3, fit:fitPrecipitation, r2:r2Labels[4], r2x:428}
];
const LEFTS = [187, 789], TOP0 = 12, ROWH = 385, GW = 443, GH = 250;
const plusSym = 'path://M2,0h2v2h2v2h-2v2h-2v-2h-2v-2h2z';
const grid = [], xAxis = [], yAxis = [], series = [], graphic = [];
panels.forEach((p, i) => {
  const top = TOP0 + ROWH * p.row;
  grid.push({left: LEFTS[p.col], top: top, width: GW, height: GH, containLabel: false});
  xAxis.push({
    type: 'value', gridIndex: i, min: p.min, max: p.max,
    name: p.title, nameLocation: 'middle', nameGap: 61,
    nameTextStyle: {fontSize: 38, color: '#000', fontFamily: FONT},
    axisLine: {show: true, onZero: false, lineStyle: {color: '#000', width: 1.2}},
    axisTick: {show: true, length: 6, lineStyle: {color: '#333', width: 1.2}, customValues: p.ticks},
    axisLabel: {fontSize: 28.5, color: '#4D4D4D', fontFamily: FONT, margin: 20, customValues: p.ticks,
      formatter: v => p.dec ? Number(v).toFixed(p.dec) : String(v)},
    splitLine: {show: false}
  });
  yAxis.push({
    type: 'value', gridIndex: i, min: 10.05, max: 104.13,
    axisLine: {show: true, onZero: false, lineStyle: {color: '#000', width: 1.2}},
    axisTick: {show: true, length: 6, lineStyle: {color: '#333', width: 1.2}, customValues: yTicks},
    axisLabel: {fontSize: 28.5, color: '#4D4D4D', fontFamily: FONT, margin: 19, customValues: yTicks},
    splitLine: {show: false}
  });
  series.push({
    type: 'scatter', xAxisIndex: i, yAxisIndex: i, data: p.data,
    symbol: plusSym, symbolSize: 6.5, itemStyle: {color: '#000', opacity: 1},
    silent: true, z: 2
  });
  if (p.fit) {
    series.push({
      type: 'line', xAxisIndex: i, yAxisIndex: i, data: p.fit,
      showSymbol: false, symbol: 'none', lineStyle: {color: '#FF0000', width: 1.3},
      silent: true, z: 3
    });
  }
  if (p.r2) {
    graphic.push({type: 'text', x: p.r2x, y: top + 41, z: 10,
      style: {text: p.r2, font: '36px ' + FONT, fill: '#000', align: 'left', verticalAlign: 'middle'}});
  }
});
// panel clip for the pH annotation (text runs past the panel edge in the reference)
graphic.push({type: 'rect', z: 20, shape: {x: 631, y: 12 + ROWH * 2 + 10, width: 60, height: 50}, style: {fill: '#fff'}});
graphic.push({type: 'text', x: 32, y: 763, rotation: Math.PI / 2, z: 10,
  style: {text: 'Humus DOC (mg/L)', font: '37px ' + FONT, fill: '#000', align: 'center', verticalAlign: 'middle'}});

const chart = echarts.init(document.getElementById('c'), null, {renderer: 'canvas'});
chart.setOption({animation: false, backgroundColor: '#fff', grid, xAxis, yAxis, series, graphic});
</script>
</body></html>
